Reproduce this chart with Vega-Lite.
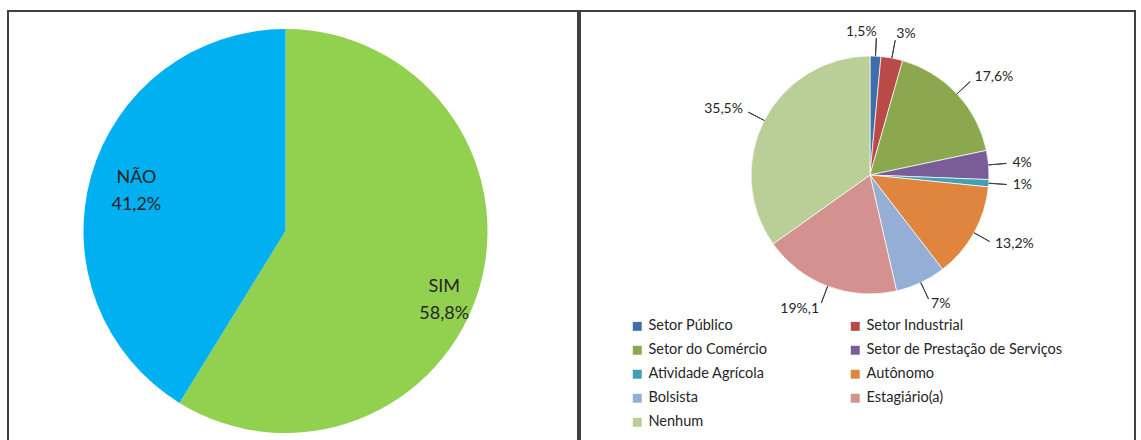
{
  "$schema": "https://vega.github.io/schema/vega-lite/v6.json",
  "padding": {"left": 7, "top": 10, "right": 0, "bottom": 0},
  "background": "white",
  "spacing": 0,
  "config": {
    "view": {"stroke": "#404040", "strokeWidth": 2},
    "font": "Lato",
    "text": {"font": "Lato"},
    "legend": {"labelFont": "Lato"}
  },
  "resolve": {"scale": {"theta": "independent", "color": "independent"}, "legend": {"color": "independent"}},
  "hconcat": [
    {
      "width": 570,
      "height": 440,
      "view": {"stroke": "#404040", "strokeWidth": 2},
      "data": {"values": [
        {"order": 1, "cat": "SIM", "value": 58.8, "label": "SIM\n58,8%"},
        {"order": 2, "cat": "NÃO", "value": 41.2, "label": "NÃO\n41,2%"}
      ]},
      "transform": [
        {"window": [{"op": "sum", "field": "value", "as": "end"}], "sort": [{"field": "order"}], "frame": [null, 0]},
        {"calculate": "datum.end - datum.value", "as": "start"},
        {"calculate": "datum.end - datum.value / 2", "as": "mid"}
      ],
      "layer": [
        {
          "mark": {"type": "arc", "radius": 202, "xOffset": -7.5},
          "encoding": {
            "theta": {"field": "start", "type": "quantitative", "stack": null, "scale": {"domain": [0, 100], "range": [0, 6.283185]}},
            "theta2": {"field": "end"},
            "color": {"field": "cat", "type": "nominal", "scale": {"domain": ["SIM", "NÃO"], "range": ["#92D050", "#00B0F0"]}, "legend": null}
          }
        },
        {
          "transform": [{"filter": "datum.cat == 'NÃO'"}],
          "mark": {"type": "text", "radius": 155, "dy": -11, "fontSize": 18, "lineBreak": "\n", "lineHeight": 27, "color": "#262626", "xOffset": -7.5},
          "encoding": {
            "theta": {"field": "mid", "type": "quantitative", "stack": null, "scale": {"domain": [0, 100], "range": [0, 6.283185]}},
            "text": {"field": "label"}
          }
        },
        {
          "transform": [{"filter": "datum.cat == 'SIM'"}],
          "mark": {"type": "text", "radius": 165, "dy": 11, "fontSize": 18, "lineBreak": "\n", "lineHeight": 27, "color": "#262626", "xOffset": -7.5},
          "encoding": {
            "theta": {"field": "mid", "type": "quantitative", "stack": null, "scale": {"domain": [0, 100], "range": [0, 6.283185]}},
            "text": {"field": "label"}
          }
        }
      ]
    },
    {
      "width": 555,
      "height": 440,
      "view": {"stroke": "#404040", "strokeWidth": 2},
      "data": {"values": [
        {"order": 1, "setor": "Setor Público", "value": 1.5, "label": "1,5%"},
        {"order": 2, "setor": "Setor Industrial", "value": 3, "label": "3%"},
        {"order": 3, "setor": "Setor do Comércio", "value": 17.6, "label": "17,6%"},
        {"order": 4, "setor": "Setor de Prestação de Serviços", "value": 4, "label": "4%"},
        {"order": 5, "setor": "Atividade Agrícola", "value": 1, "label": "1%"},
        {"order": 6, "setor": "Autônomo", "value": 13.2, "label": "13,2%"},
        {"order": 7, "setor": "Bolsista", "value": 7, "label": "7%"},
        {"order": 8, "setor": "Estagiário(a)", "value": 19.1, "label": "19%,1"},
        {"order": 9, "setor": "Nenhum", "value": 35.5, "label": "35,5%"}
      ]},
      "transform": [
        {"window": [{"op": "sum", "field": "value", "as": "end"}], "sort": [{"field": "order"}], "frame": [null, 0]},
        {"calculate": "datum.end - datum.value", "as": "start"},
        {"calculate": "datum.end - datum.value / 2", "as": "mid"}
      ],
      "layer": [
        {
          "mark": {"type": "arc", "radius": 119, "xOffset": 12.5, "yOffset": -56, "stroke": "white", "strokeWidth": 0.7},
          "encoding": {
            "theta": {"field": "start", "type": "quantitative", "stack": null, "scale": {"domain": [0, 101.9], "range": [0, 6.283185]}},
            "theta2": {"field": "end"},
            "color": {
              "field": "setor", "type": "nominal",
              "scale": {
                "domain": ["Setor Público", "Setor Industrial", "Setor do Comércio", "Setor de Prestação de Serviços", "Atividade Agrícola", "Autônomo", "Bolsista", "Estagiário(a)", "Nenhum"],
                "range": ["#3F6FAA", "#B94A48", "#8BA84F", "#7A5C99", "#3FA0B5", "#E0853D", "#94AED6", "#D39190", "#BACF98"]
              },
              "legend": {
                "orient": "none", "legendX": 50, "legendY": 308, "direction": "horizontal", "columns": 2,
                "title": null, "symbolType": "square", "symbolSize": 80, "symbolStrokeWidth": 0,
                "labelFontSize": 14.5, "labelColor": "#262626", "rowPadding": 9, "columnPadding": 80, "labelLimit": 300
              }
            }
          }
        },
        {
          "mark": {"type": "arc", "radius": 137, "radius2": 119, "xOffset": 12.5, "yOffset": -56, "stroke": "#404040", "strokeWidth": 1, "fill": null},
          "encoding": {
            "theta": {"field": "mid", "type": "quantitative", "stack": null, "scale": {"domain": [0, 101.9], "range": [0, 6.283185]}},
            "theta2": {"field": "mid"}
          }
        },
        {
          "transform": [{"filter": "datum.mid >= 1 && datum.mid <= 50.95"}],
          "mark": {"type": "text", "radius": 143, "align": "left", "fontSize": 14, "color": "#262626", "xOffset": 12.5, "yOffset": -56},
          "encoding": {
            "theta": {"field": "mid", "type": "quantitative", "stack": null, "scale": {"domain": [0, 101.9], "range": [0, 6.283185]}},
            "text": {"field": "label"}
          }
        },
        {
          "transform": [{"filter": "datum.mid < 1 || datum.mid > 50.95"}],
          "mark": {"type": "text", "radius": 143, "align": "right", "fontSize": 14, "color": "#262626", "xOffset": 12.5, "yOffset": -56},
          "encoding": {
            "theta": {"field": "mid", "type": "quantitative", "stack": null, "scale": {"domain": [0, 101.9], "range": [0, 6.283185]}},
            "text": {"field": "label"}
          }
        }
      ]
    }
  ]
}
